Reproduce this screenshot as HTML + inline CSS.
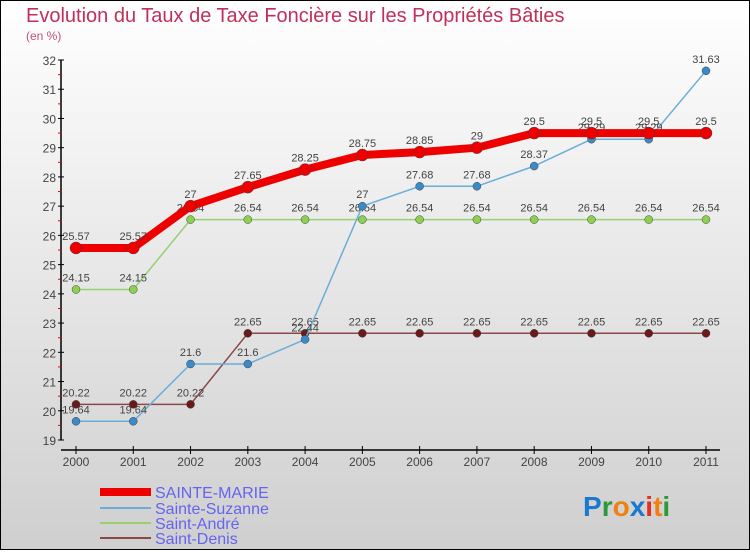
<!DOCTYPE html>
<html><head><meta charset="utf-8"><style>
html,body{margin:0;padding:0}
body{width:750px;height:550px;overflow:hidden;font-family:"Liberation Sans",sans-serif}
svg text{font-family:"Liberation Sans",sans-serif}
</style></head><body>
<svg id="c" width="750" height="550" xmlns="http://www.w3.org/2000/svg">
<defs><linearGradient id="bg" x1="0" y1="0" x2="0" y2="1"><stop offset="0" stop-color="#ffffff"/><stop offset="1" stop-color="#cfcfcf"/></linearGradient></defs>
<rect x="0.5" y="0.5" width="749" height="549" fill="url(#bg)" stroke="#000"/>
<text x="26" y="22" font-size="20" fill="#c0305a">Evolution du Taux de Taxe Foncière sur les Propriétés Bâties</text>
<text x="26" y="40" font-size="12" fill="#c0507a">(en %)</text>
<g id="axes"></g><g id="series"></g>
<g>
<line x1="100" y1="492" x2="151" y2="492" stroke="#e00" stroke-width="8"/>
<text x="155" y="498" font-size="16" fill="#6464f0">SAINTE-MARIE</text>
<line x1="100" y1="508" x2="151" y2="508" stroke="#6aaed8" stroke-width="2"/>
<text x="155" y="514" font-size="16" fill="#6464f0">Sainte-Suzanne</text>
<line x1="100" y1="523" x2="151" y2="523" stroke="#96d070" stroke-width="2"/>
<text x="155" y="529" font-size="16" fill="#6464f0">Saint-André</text>
<line x1="100" y1="538" x2="151" y2="538" stroke="#8a4848" stroke-width="2"/>
<text x="155" y="544" font-size="16" fill="#6464f0">Saint-Denis</text>
</g>
<g font-size="28" font-weight="bold">
<text x="583" y="516"><tspan fill="#1a78d0">P</tspan><tspan fill="#2a9a3a">r</tspan><tspan fill="#f08010">o</tspan><tspan fill="#1a78d0">x</tspan><tspan fill="#e03020">i</tspan><tspan fill="#f08010">t</tspan><tspan fill="#2a9a3a">i</tspan></text>
</g>
</svg>
<script>
const years = [2000,2001,2002,2003,2004,2005,2006,2007,2008,2009,2010,2011];
const yTicks = [19,20,21,22,23,24,25,26,27,28,29,30,31,32];
const sainteMarie = [25.57,25.57,27,27.65,28.25,28.75,28.85,29,29.5,29.5,29.5,29.5];
const sainteSuzanne = [19.64,19.64,21.6,21.6,22.44,27,27.68,27.68,28.37,29.29,29.29,31.63];
const saintAndre = [24.15,24.15,26.54,26.54,26.54,26.54,26.54,26.54,26.54,26.54,26.54,26.54];
const saintDenis = [20.22,20.22,20.22,22.65,22.65,22.65,22.65,22.65,22.65,22.65,22.65,22.65];

const NS="http://www.w3.org/2000/svg";
const xS = i => 76 + i*(706-76)/(years.length-1);
const yS = v => 440 - (v-19)*(440-60)/(32-19);
function mk(tag, attrs, parent){const e=document.createElementNS(NS,tag);for(const k in attrs)e.setAttribute(k,attrs[k]);parent.appendChild(e);return e;}
const axes=document.getElementById('axes');
const ya=mk('line',{x1:61,y1:60,x2:61,y2:440,stroke:'#000','stroke-width':1.5},axes);


yTicks.forEach((t,i)=>{
  const y=yS(t);
  mk('line',{x1:58,y1:y,x2:64,y2:y,stroke:'#000'},axes);
  if(i<yTicks.length-1) mk('line',{x1:58,y1:y-14.6,x2:61,y2:y-14.6,stroke:'#e00'},axes);
  const tx=mk('text',{x:56,y:y+5,'font-size':12,fill:'#444','text-anchor':'end'},axes);
  tx.textContent=t;
  
  
});
const xa=mk('line',{x1:61,y1:450,x2:720,y2:450,stroke:'#000','stroke-width':1.5},axes);


years.forEach((yr,i)=>{
  const x=xS(i);
  mk('line',{x1:x,y1:446,x2:x,y2:454,stroke:'#000'},axes);
  const tx=mk('text',{x:x,y:466,'font-size':12,fill:'#444','text-anchor':'middle'},axes);
  tx.textContent=yr;
  
  
});
const sg=document.getElementById('series');
function series(data,name,color,width,r,dot){
  const g=mk('g',{},sg);
  
  
  const pl=mk('polyline',{points:data.map((v,i)=>xS(i)+','+yS(v)).join(' '),fill:'none',stroke:color,'stroke-width':width,'stroke-linejoin':'round'},g);
  
  
  data.forEach((v,i)=>{
    const c=mk('circle',{cx:xS(i),cy:yS(v),r:r,fill:dot,stroke:'#444','stroke-width':0.5},g);
    
    
    const t=mk('text',{x:xS(i),y:yS(v)-8,'font-size':11,fill:'#444','text-anchor':'middle'},g);
    t.textContent=v;
    
    
  });
}
series(saintDenis,'saint-denis','#8a4848',1.5,4,'#6a1a1a');
series(saintAndre,'saint-andre','#96d070',1.5,4,'#8cd050');
series(sainteSuzanne,'sainte-suzanne','#6aaed8',1.5,4,'#3a8ac8');
series(sainteMarie,'sainte-marie','#e00',8,6,'#e00');
</script>
</body></html>
